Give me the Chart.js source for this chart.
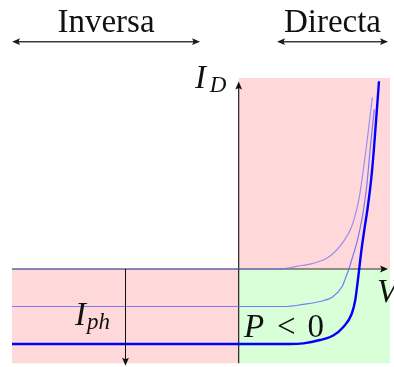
<!DOCTYPE html>
<html>
<head>
<meta charset="utf-8">
<script src="https://cdn.jsdelivr.net/npm/chart.js@4/dist/chart.umd.min.js"></script>
<style>
  html, body { margin: 0; padding: 0; background: #ffffff; }
  canvas { display: block; }
</style>
</head>
<body>
<canvas id="c" width="394" height="367"></canvas>
<script>
// Photodiode I–V characteristic: dark curve plus two illumination levels.
// Voltage samples (V) and diode current samples (I_D), Iph normalised to 1.
const darkV = [-1.501, 0, 0.274, 0.384, 0.494, 0.583, 0.626, 0.649, 0.693, 0.748, 0.781, 0.803, 0.816, 0.843, 0.885];
const darkI = [0, 0, 0, 0.036, 0.076, 0.143, 0.209, 0.253, 0.364, 0.564, 0.787, 1.009, 1.187, 1.587, 2.289];

const halfV = [-1.501, 0, 0.306, 0.428, 0.538, 0.626, 0.687, 0.710, 0.730, 0.748, 0.781, 0.815, 0.836, 0.852, 0.870, 0.898];
const halfI = [-0.5, -0.5, -0.5, -0.471, -0.433, -0.367, -0.227, -0.107, 0, 0.12, 0.343, 0.653, 0.92, 1.187, 1.587, 2.129];

const fullV = [-1.501, 0, 0.34, 0.428, 0.538, 0.626, 0.693, 0.748, 0.772, 0.787, 0.798, 0.813, 0.835, 0.852, 0.877, 0.895, 0.929];
const fullI = [-1, -1, -1, -0.991, -0.947, -0.887, -0.773, -0.6, -0.413, -0.187, 0, 0.253, 0.564, 0.787, 1.187, 1.587, 2.503];

// Shaded operating regions: [V from, V to] and [I from, I to]
const regionV = [[-1.501, 0], [0, 1.002], [0, 1.002]];
const regionI = [[-1.257, 0], [0, 2.547], [-1.257, 0]];
const regionFill = ['#ffd9d9', '#ffd9d9', '#d9ffd9'];

// Axis extents and the photocurrent marker
const axisV = [-1.501, 0.989];
const axisI = [-1.257, 2.5];
const iphMarkerV = -0.755;
const iphMarkerI = [0, -1.29];

// Top captions with their span arrows
const captionText = ['Inversa', 'Directa'];
const captionCenterV = [-0.879, 0.621];
const captionArrowV = [[-1.501, -0.256], [0.254, 0.989]];

const toPoints = (vs, is) => vs.map((v, k) => ({ x: v, y: is[k] }));

function arrowHead(ctx, x, y, dx, dy) {
  const len = 8, half = 3.4;
  const px = -dy, py = dx;
  ctx.beginPath();
  ctx.moveTo(x, y);
  ctx.lineTo(x - dx * len + px * half, y - dy * len + py * half);
  ctx.lineTo(x - dx * len * 0.8, y - dy * len * 0.8);
  ctx.lineTo(x - dx * len - px * half, y - dy * len - py * half);
  ctx.closePath();
  ctx.fill();
}

const backdrop = {
  id: 'backdrop',
  beforeDatasetsDraw(chart) {
    const { ctx, scales: { x, y } } = chart;
    ctx.save();
    regionV.forEach((rv, k) => {
      const ri = regionI[k];
      const x0 = x.getPixelForValue(rv[0]), x1 = x.getPixelForValue(rv[1]);
      const y0 = y.getPixelForValue(ri[1]), y1 = y.getPixelForValue(ri[0]);
      ctx.fillStyle = regionFill[k];
      ctx.fillRect(x0, y0, x1 - x0, y1 - y0);
    });
    // axes
    ctx.strokeStyle = '#333333';
    ctx.fillStyle = '#111111';
    ctx.lineWidth = 1.1;
    const ox = x.getPixelForValue(0), oy = y.getPixelForValue(0);
    ctx.beginPath();
    ctx.moveTo(x.getPixelForValue(axisV[0]), oy);
    ctx.lineTo(x.getPixelForValue(axisV[1]) - 5, oy);
    ctx.stroke();
    arrowHead(ctx, x.getPixelForValue(axisV[1]), oy, 1, 0);
    ctx.strokeStyle = '#111111';
    ctx.beginPath();
    ctx.moveTo(ox, y.getPixelForValue(axisI[0]));
    ctx.lineTo(ox, y.getPixelForValue(axisI[1]) + 5);
    ctx.stroke();
    arrowHead(ctx, ox, y.getPixelForValue(axisI[1]), 0, -1);
    ctx.restore();
  },
  afterDatasetsDraw(chart) {
    const { ctx, scales: { x, y } } = chart;
    ctx.save();
    // photocurrent marker
    ctx.strokeStyle = '#111111';
    ctx.fillStyle = '#111111';
    ctx.lineWidth = 1;
    const mx = Math.round(x.getPixelForValue(iphMarkerV)) + 0.5;
    ctx.beginPath();
    ctx.moveTo(mx, y.getPixelForValue(iphMarkerI[0]));
    ctx.lineTo(mx, y.getPixelForValue(iphMarkerI[1]) - 5);
    ctx.stroke();
    arrowHead(ctx, mx, y.getPixelForValue(iphMarkerI[1]), 0, 1);

    // captions and double arrows
    ctx.fillStyle = '#111111';
    ctx.font = '33px "Liberation Serif"';
    ctx.textAlign = 'center';
    ctx.textBaseline = 'alphabetic';
    captionText.forEach((t, k) => {
      ctx.fillText(t, x.getPixelForValue(captionCenterV[k]), y.getPixelForValue(3.164));
    });
    ctx.strokeStyle = '#3a3a3a';
    ctx.fillStyle = '#1a1a1a';
    ctx.lineWidth = 1.5;
    const ay = y.getPixelForValue(3.031);
    captionArrowV.forEach(([a, b]) => {
      const xa = x.getPixelForValue(a), xb = x.getPixelForValue(b);
      ctx.beginPath();
      ctx.moveTo(xa + 5, ay);
      ctx.lineTo(xb - 5, ay);
      ctx.stroke();
      arrowHead(ctx, xa, ay, -1, 0);
      arrowHead(ctx, xb, ay, 1, 0);
    });

    // math labels
    ctx.fillStyle = '#111111';
    ctx.textAlign = 'left';
    const big = 'italic 33px "Liberation Serif"';
    const small = 'italic 23px "Liberation Serif"';
    const label = (t, v, i, f) => { ctx.font = f; ctx.fillText(t, x.getPixelForValue(v), y.getPixelForValue(i)); };
    label('I', -0.289, 2.41, big);
    label('D', -0.191, 2.36, small);
    label('V', 0.916, -0.44, big);
    label('P', 0.035, -0.907, big);
    label('<', 0.254, -0.907, '33px "Liberation Serif"');
    label('0', 0.456, -0.907, '33px "Liberation Serif"');
    label('I', -1.084, -0.747, big);
    label('ph', -1.005, -0.8, small);
    ctx.restore();
  }
};

new Chart(document.getElementById('c'), {
  type: 'scatter',
  data: {
    datasets: [
      { data: toPoints(darkV, darkI), borderColor: 'rgba(110,110,255,0.7)', borderWidth: 1.2 },
      { data: toPoints(halfV, halfI), borderColor: 'rgba(100,100,255,0.85)', borderWidth: 1.2 },
      { data: toPoints(fullV, fullI), borderColor: '#0000ff', borderWidth: 2.4 }
    ].map(d => Object.assign(d, { showLine: true, pointRadius: 0, cubicInterpolationMode: 'monotone', fill: false }))
  },
  options: {
    responsive: false,
    animation: false,
    layout: { padding: 0 },
    plugins: { legend: { display: false }, tooltip: { enabled: false } },
    scales: {
      x: { type: 'linear', display: false, min: -1.5808, max: 1.0285 },
      y: { type: 'linear', display: false, min: -1.3067, max: 3.5867 }
    }
  },
  plugins: [backdrop]
});
</script>
</body>
</html>
